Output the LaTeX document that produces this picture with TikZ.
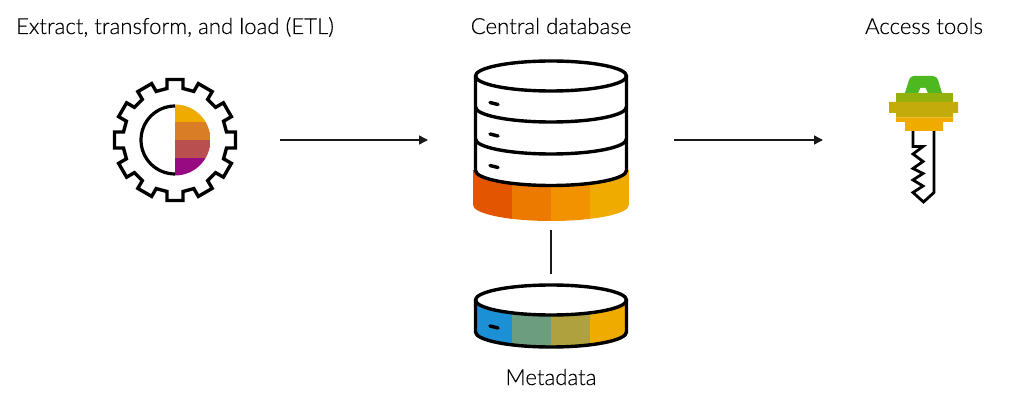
\documentclass[tikz,border=0pt]{standalone}
\usepackage{fontspec}
\setmainfont{Lato}[UprightFont=* Light,FakeBold=0.2]
\usetikzlibrary{arrows.meta}
\definecolor{cA}{HTML}{F0AB00}
\definecolor{cB}{HTML}{D97E26}
\definecolor{cC}{HTML}{B9504F}
\definecolor{cD}{HTML}{970A82}
\definecolor{oA}{HTML}{E35500}
\definecolor{oB}{HTML}{ED7A00}
\definecolor{oC}{HTML}{F39200}
\definecolor{mA}{HTML}{1B90D4}
\definecolor{mB}{HTML}{6C9D7E}
\definecolor{mC}{HTML}{AEA13E}
\definecolor{kA}{HTML}{4DB81F}
\definecolor{kB}{HTML}{93B00D}
\definecolor{kC}{HTML}{C2AB0A}
\tikzset{
  x=1pt,y=-1pt,
  lbl/.style={font=\fontsize{22.2}{26}\selectfont,text=black,inner sep=0pt,anchor=base},
  outline/.style={draw=black,line width=3.4pt,line join=round},
  conn/.style={draw=black!90,line width=1.5pt},
  arrowed/.style={conn,-{Triangle[length=9pt,width=9pt]}},
  pill/.style={draw=black,line width=3.5pt,line cap=round},
}
\begin{document}
\begin{tikzpicture}
\useasboundingbox (0,0) rectangle (1010,403);
\fill[white] (0,0) rectangle (1010,403);

% labels
\node[lbl] (tEtl) at (175,34) {Extract, transform, and load (ETL)};
\node[lbl] (tDb) at (551,34) {Central database};
\node[lbl] (tAcc) at (924,34) {Access tools};
\node[lbl] (tMeta) at (551,385) {Metadata};

% gear
\coordinate (gear) at (280,140);
\begin{scope}[shift={(175,140)}]
  \draw[outline,line join=miter] (-8,-51.5) \foreach \a in {0,-30,...,-330}{
      -- ([rotate=\a]-8,-51.5) -- ([rotate=\a]-8,-60.5) -- ([rotate=\a]8,-60.5) -- ([rotate=\a]8,-51.5)
    } -- cycle;
  \begin{scope}
    \clip (0,-35.5) arc[start angle=-90,end angle=90,radius=35.5] -- cycle;
    \fill[cA] (0,-36) rectangle (36,-18);
    \fill[cB] (0,-18) rectangle (36,0);
    \fill[cC] (0,0) rectangle (36,18);
    \fill[cD] (0,18) rectangle (36,36);
  \end{scope}
  \draw[black,line width=3.2pt] (0,-34) arc[start angle=-90,end angle=-270,radius=34];
\end{scope}

% central database
\coordinate (dbL) at (428,140);
\coordinate (dbR) at (674,140);
\coordinate (dbB) at (551,230);
\begin{scope}
  \clip (473,170) -- (629,170) -- (629,205) arc[start angle=0,end angle=180,x radius=78,y radius=16] -- cycle;
  \fill[oA] (473,170) rectangle (512,222);
  \fill[oB] (512,170) rectangle (551,222);
  \fill[oC] (551,170) rectangle (590,222);
  \fill[cA] (590,170) rectangle (629,222);
\end{scope}
\fill[white] (475,76) -- (627,76) -- (627,170) arc[start angle=0,end angle=180,x radius=76,y radius=15] -- cycle;
\draw[outline] (551,76) ellipse[x radius=75.5,y radius=15];
\draw[outline] (475.5,76) -- (475.5,170.5) arc[start angle=180,end angle=0,x radius=75.5,y radius=15] -- (626.5,76);
\draw[outline] (475.5,107) arc[start angle=180,end angle=0,x radius=75.5,y radius=15];
\draw[outline] (475.5,139) arc[start angle=180,end angle=0,x radius=75.5,y radius=15];
\draw[pill] (490,102.5) -- (498,104.5);
\draw[pill] (490,134) -- (498,136);
\draw[pill] (490,165.5) -- (498,167.5);

% metadata
\coordinate (mdT) at (551,274);
\begin{scope}
  \clip (475,300) -- (627,300) -- (627,332) arc[start angle=0,end angle=180,x radius=76,y radius=15] -- cycle;
  \fill[mA] (475,295) rectangle (512,350);
  \fill[mB] (512,295) rectangle (551,350);
  \fill[mC] (551,295) rectangle (590,350);
  \fill[cA] (590,295) rectangle (627,350);
\end{scope}
\fill[white] (551,300) ellipse[x radius=75.5,y radius=15];
\draw[outline] (551,300) ellipse[x radius=75.5,y radius=15];
\draw[outline] (475.5,300) -- (475.5,332) arc[start angle=180,end angle=0,x radius=75.5,y radius=15] -- (626.5,300);
\draw[pill] (490,326) -- (498,328);

% key
\coordinate (key) at (823,140);
\draw[black,line width=2.8pt,line join=miter] (913,129) -- (913,146.5) -- (923,146.5) -- (913,154) -- (923,161.5) -- (913,168.5) -- (923,173.5) -- (913,180) -- (923,186) -- (913,192.5) -- (923.5,202) -- (934,192.5) -- (934,129);
\fill[kA] (913.5,76) -- (933,76) .. controls (936,76) and (937,78) .. (938,80) -- (942,93) -- (905,93) -- (909,80) .. controls (910,78) and (911,76) .. (913.5,76) -- cycle;
\fill[white] (920.5,88) -- (925.5,88) -- (928,93.5) -- (918,93.5) -- cycle;
\fill[kB] (896,93) -- (953,93) -- (953,102) -- (896,102) -- cycle;
\fill[kC] (889,102) -- (958,102) -- (958,113) -- (953,113) -- (953,117.5) -- (896,117.5) -- (896,113) -- (889,113) -- cycle;
\fill[cA] (896,117.5) -- (953,117.5) -- (953,122) -- (943,122) -- (943,131) -- (905,131) -- (905,122) -- (896,122) -- cycle;

% connectors
\draw[arrowed] (gear) -- (dbL);
\draw[arrowed] (dbR) -- (key);
\draw[conn] (dbB) -- (mdT);
\end{tikzpicture}
\end{document}
